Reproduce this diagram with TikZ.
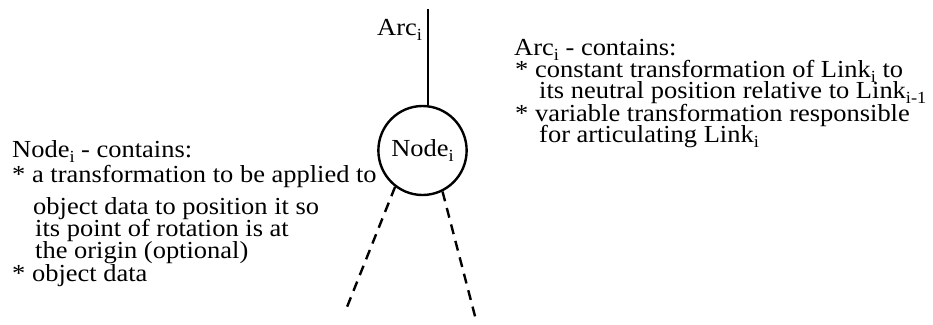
\documentclass[tikz,border=0pt]{standalone}
\usepackage{fontspec}
\setmainfont{Liberation Serif}
\usetikzlibrary{shapes.geometric}
% lines of text are set slightly wide
\newcommand\widetxt[1]{\scalebox{1.08}[1]{#1}}
\newcommand\sbs[1]{\raisebox{-0.22em}{\fontsize{17}{17}\selectfont #1}}
\tikzset{
  label text/.style={anchor=base west, inner sep=0pt, font=\fontsize{24.5}{24.5}\selectfont},
  thick line/.style={line width=2.4pt, line cap=butt},
  branch/.style={line width=2.4pt, dash pattern=on 10pt off 7pt}
}
\begin{document}
\begin{tikzpicture}[x=1pt, y=-1pt]
\useasboundingbox (0,0) rectangle (933,324);

% the node and its arcs
\node[ellipse, draw, line width=2.4pt, minimum width=79pt, minimum height=89pt,
      inner sep=0pt, font=\fontsize{24.5}{24.5}\selectfont] (nd) at (422.5,150.5)
      {\widetxt{Node\sbs{i}}};
\coordinate (arctop) at (428,9);
\draw[thick line] (arctop) -- (arctop |- nd.north);
\coordinate (leftend) at (345,312);
\coordinate (rightend) at (476,320);
\draw[branch] (nd.-127) -- (leftend);
\draw[branch] (nd.-64) -- (rightend);

\node[label text] (arclabel) at (377,35) {\widetxt{Arc\sbs{i}}};

% description of the node
\node[label text] (n1) at (12,157) {\widetxt{Node\sbs{i} - contains:}};
\node[label text] (n2) at (12,182) {\widetxt{* a transformation to be applied to}};
\node[label text] (n3) at (33,214) {\widetxt{object data to position it so}};
\node[label text] (n4) at (35,236) {\widetxt{its point of rotation is at}};
\node[label text] (n5) at (35,258) {\widetxt{the origin (optional)}};
\node[label text] (n6) at (12,281) {\widetxt{* object data}};

% description of the arc
\node[label text] (a1) at (514,55) {\widetxt{Arc\sbs{i} - contains:}};
\node[label text] (a2) at (515,77) {\widetxt{* constant transformation of Link\sbs{i} to}};
\node[label text] (a3) at (539,98) {\widetxt{its neutral position relative to Link\sbs{i-1}}};
\node[label text] (a4) at (515,121) {\widetxt{* variable transformation responsible}};
\node[label text] (a5) at (539,142) {\widetxt{for articulating Link\sbs{i}}};
\end{tikzpicture}
\end{document}
